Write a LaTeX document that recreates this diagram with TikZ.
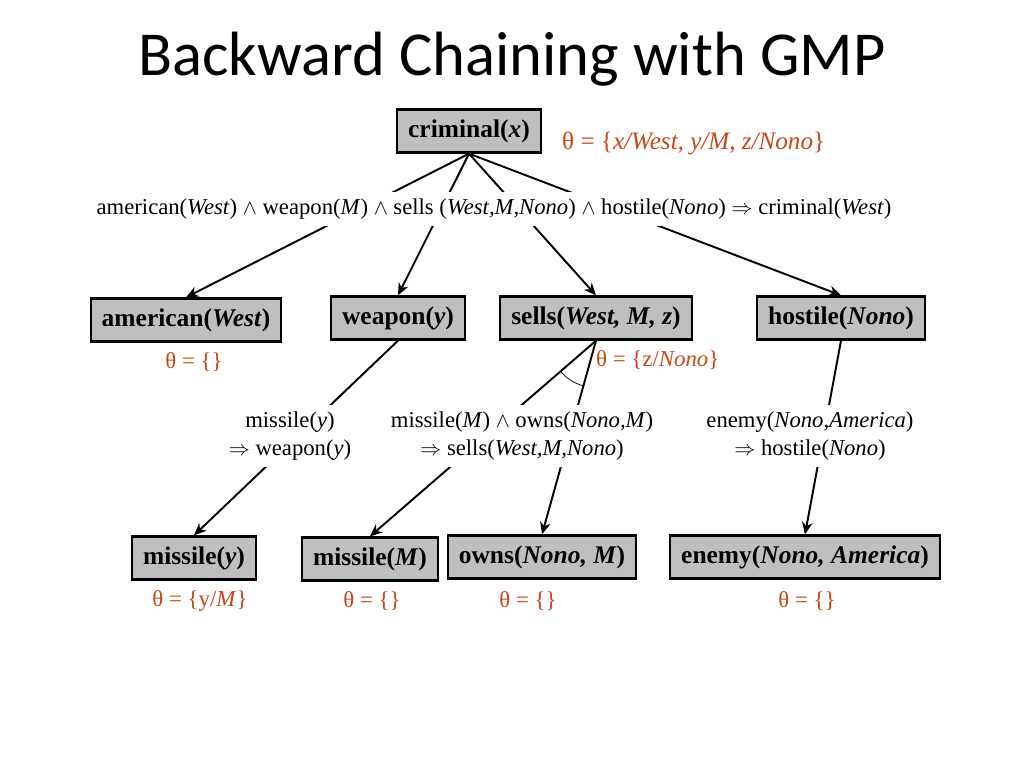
\documentclass[tikz,border=0pt]{standalone}
\usepackage{fontspec}
\setmainfont{Liberation Serif}
\newfontfamily\titlefont{Carlito}
\usetikzlibrary{arrows.meta,backgrounds,angles}
\definecolor{thetared}{RGB}{200,70,24}
\tikzset{
  box/.style={draw, line width=1.3pt, fill=gray!50, minimum height=0.86cm,
    inner xsep=0.22cm, font=\fontsize{14.5}{17}\selectfont\bfseries},
  rule/.style={fill=white, align=center, inner sep=4pt,
    font=\fontsize{12.9}{16}\selectfont},
  theta/.style={text=thetared, font=\fontsize{13}{15}\selectfont},
  link/.style={line width=1.1pt, -{Stealth[length=7pt,width=6pt]}}
}
\begin{document}
\begin{tikzpicture}[x=0.02cm,y=-0.02cm]
	\useasboundingbox (0,0) rectangle (1024,768);
	
	% Titel
	\node (title) at (512,59) {\titlefont\fontsize{35.6}{42}\selectfont Backward Chaining with GMP};
	
	% Ziel
	\node[box] (crim) at (469,131) {criminal(\textit{x})};
	\node[theta,anchor=west,font=\fontsize{14.3}{16}\selectfont] (th0) at (556,143) {θ = \{\textit{x/West, y/M, z/Nono}\}};
	\node[rule] (r1) at (494,209) {american(\textit{West}) $\wedge$ weapon(\textit{M}) $\wedge$ sells (\textit{West,M,Nono}) $\wedge$ hostile(\textit{Nono}) $\Rightarrow$ criminal(\textit{West})};
	
	% erste Ebene
	\node[box] (amer) at (186,320) {american(\textit{West})};
	\node[box] (weap) at (398,318) {weapon(\textit{y})};
	\node[box] (sells) at (596,318) {sells(\textit{West, M, z})};
	\node[box] (host) at (841,318) {hostile(\textit{Nono})};
	\node[theta] (th1) at (194,362) {θ = \{\}};
	\node[theta,anchor=west] (th2) at (590,360) {θ = \{z/\textit{Nono}\}};
	
	% Regeln
	\node[rule] (r2) at (290,436) {missile(\textit{y})\\$\Rightarrow$ weapon(\textit{y})};
	\node[rule] (r3) at (522,436) {missile(\textit{M}) $\wedge$ owns(\textit{Nono,M})\\$\Rightarrow$ sells(\textit{West,M,Nono})};
	\node[rule] (r4) at (810,436) {enemy(\textit{Nono,America})\\$\Rightarrow$ hostile(\textit{Nono})};
	
	% zweite Ebene
	\node[box] (missy) at (194,558) {missile(\textit{y})};
	\node[box] (missm) at (370,559) {missile(\textit{M})};
	\node[box] (owns) at (542,557) {owns(\textit{Nono, M})};
	\node[box] (enemy) at (805,557) {enemy(\textit{Nono, America})};
	\node[theta] (th3) at (200,601) {θ = \{y/\textit{M}\}};
	\node[theta] (th4) at (372,601) {θ = \{\}};
	\node[theta] (th5) at (528,601) {θ = \{\}};
	\node[theta] (th6) at (807,601) {θ = \{\}};
	
	% Kanten
	\begin{scope}[on background layer]
		\draw[link] (crim.south) -- (amer.north);
		\draw[link] (crim.south) -- (weap.north);
		\draw[link] (crim.south) -- (sells.north);
		\draw[link] (crim.south) -- (host.north);
		\draw[link] (weap.south) -- (missy.north);
		\draw[link] (sells.south) -- (missm.north);
		\draw[link] (sells.south) -- (owns.north);
		\draw[link] (host.south) -- (enemy.north);
	\end{scope}
	
	% Und-Bogen
	\coordinate (sv) at (sells.south);
	\coordinate (mt) at (missm.north);
	\coordinate (ot) at (owns.north);
	\pic[draw, angle radius=0.94cm] {angle=mt--sv--ot};
	
\end{tikzpicture}
\end{document}
